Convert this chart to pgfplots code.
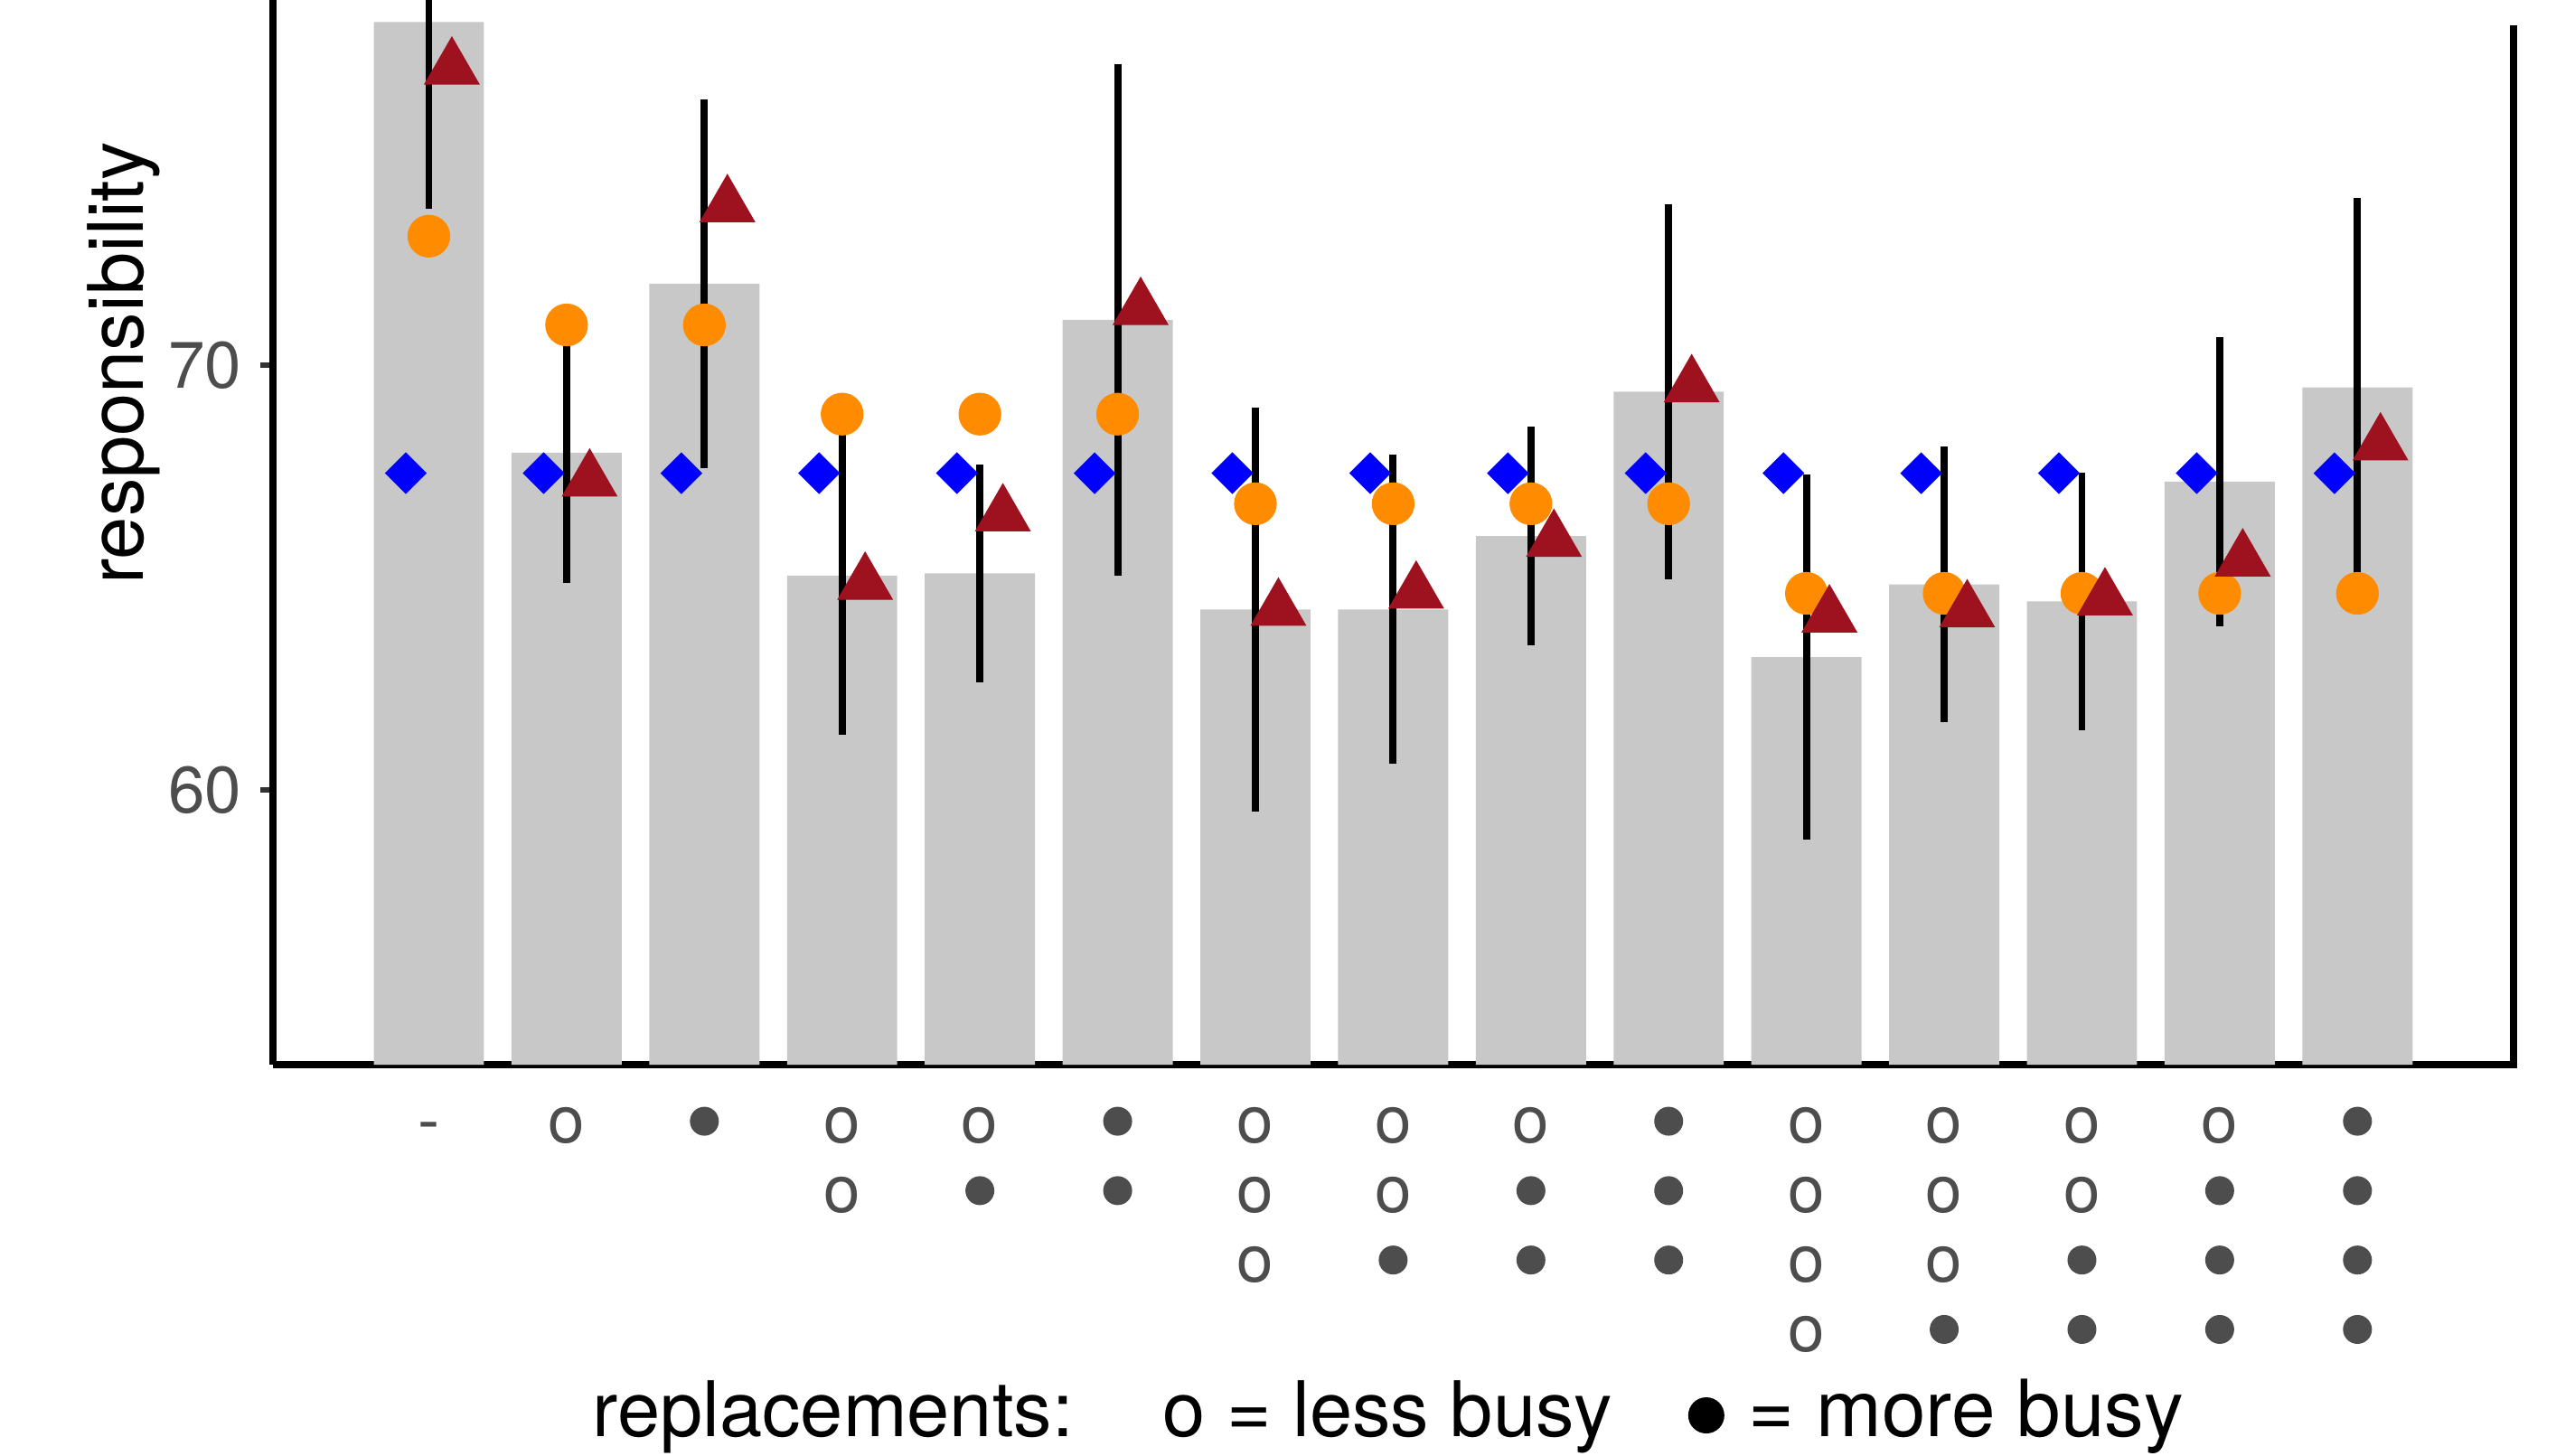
\documentclass[border=0pt]{standalone}
\usepackage{fontspec}
\setmainfont{TeX Gyre Heros}
\usepackage{pgfplots}
\pgfplotsset{compat=1.18}
\usepackage{pgfplotstable}
\definecolor{barg}{RGB}{200,200,200}
\definecolor{dorange}{RGB}{255,140,0}
\definecolor{dred}{RGB}{158,17,31}
\definecolor{dblue}{RGB}{0,0,255}
\definecolor{g30}{RGB}{77,77,77}
\definecolor{g20}{RGB}{51,51,51}

\pgfplotstableread{
x bar err circ tri
1 78.08 4.40 73.04 76.99
2 67.94 3.07 70.95 67.29
3 71.92 4.35 70.95 73.75
4 65.05 3.75 68.85 64.86
5 65.10 2.57 68.85 66.47
6 71.07 6.03 68.85 71.33
7 64.25 4.75 66.74 64.25
8 64.25 3.64 66.74 64.65
9 65.98 2.58 66.74 65.87
10 69.38 4.41 66.74 69.51
11 63.13 4.30 64.63 64.09
12 64.84 3.24 64.63 64.21
13 64.44 3.03 64.63 64.49
14 67.26 3.40 64.63 65.41
15 69.48 4.46 64.63 68.14
}\data

\pgfplotstableread{
x dia
1 67.46
2 67.46
3 67.46
4 67.46
5 67.46
6 67.46
7 67.46
8 67.46
9 67.46
10 67.46
11 67.46
12 67.46
13 67.46
14 67.46
15 67.46
}\diadata

\newcommand{\Op}{\rule{0pt}{8pt}o}
\newcommand{\Fp}{\rule{0pt}{8pt}\tikz[baseline={(0pt,-4pt)}]\fill[g30] (0,0) circle (2.64pt);}
\newcommand{\Dp}{\rule{0pt}{8pt}-}

\begin{document}
\begin{tikzpicture}
\begin{axis}[
  name=ax,
  at={(0pt,0pt)}, anchor=south west,
  scale only axis,
  width=409pt, height=194.4pt,
  xmin=-0.133, xmax=16.13,
  ymin=53.53, ymax=78.6,
  axis x line*=bottom,
  axis y line*=left,
  axis line style={line width=1.3pt, black},
  tick align=outside,
  major tick length=2.2pt,
  ytick={60,70},
  ytick style={g20, line width=1pt},
  xtick={1,...,15},
  xtick style={draw=none},
  /pgf/number format/assume math mode=true,
  yticklabel style={font=\fontsize{12}{14}\selectfont, text=g30},
  xticklabel style={font=\fontsize{12}{12.67}\selectfont, text=g30, align=center, anchor=north, inner sep=0pt, yshift=-3.9pt},
  xticklabels={
    {\Dp},
    {\Op},
    {\Fp},
    {\Op\\\Op},
    {\Op\\\Fp},
    {\Fp\\\Fp},
    {\Op\\\Op\\\Op},
    {\Op\\\Op\\\Fp},
    {\Op\\\Fp\\\Fp},
    {\Fp\\\Fp\\\Fp},
    {\Op\\\Op\\\Op\\\Op},
    {\Op\\\Op\\\Op\\\Fp},
    {\Op\\\Op\\\Fp\\\Fp},
    {\Op\\\Fp\\\Fp\\\Fp},
    {\Fp\\\Fp\\\Fp\\\Fp}
  },
]
\addplot[ybar, bar width=0.8, bar shift=0pt, fill=barg, draw=none] table[x=x, y=bar] {\data};
\addplot[draw=none, mark=none, forget plot,
  error bars/.cd, y dir=both, y explicit, error mark=none,
  error bar style={draw=black, solid, line width=1.3pt}]
  table[x=x, y=bar, y error=err] {\data};
\addplot[only marks, color=dblue, mark=square*, mark size=2.6pt,
  mark options={rotate=45, solid, line width=0.2pt}]
  table[x expr=\thisrow{x}-0.167, y=dia] {\diadata};
\addplot[only marks, color=dorange, mark=*, mark size=3.8pt,
  mark options={solid, line width=0.2pt}]
  table[x=x, y=circ] {\data};
\addplot[only marks, color=dred, mark=triangle*, mark size=5.7pt,
  mark options={solid, line width=0.2pt}]
  table[x expr=\thisrow{x}+0.167, y=tri] {\data};
\end{axis}
\draw[line width=1.3pt, black] (409pt,-0.65pt) -- (409pt,189.7pt);
\node[rotate=90, font=\fontsize{14}{16.8}\selectfont] at (-27.3pt,128.1pt) {responsibility};
\node[anchor=base west, inner sep=0pt, font=\fontsize{14}{16.8}\selectfont] at (58.2pt,-67.8pt) {replacements:};
\node[anchor=base west, inner sep=0pt, font=\fontsize{14}{16.8}\selectfont] at (162.3pt,-67.8pt) {o = less busy};
\node[anchor=base west, inner sep=0pt] at (258.2pt,-67.8pt) {\tikz[baseline={(0pt,-3.8pt)}]\fill[black] (0,0) circle (3.3pt);};
\node[anchor=base west, inner sep=0pt, font=\fontsize{14.4}{17}\selectfont] at (269.2pt,-67.8pt) {= more busy};
\pgfresetboundingbox
\path (-49.8pt,-71.3pt) rectangle (420.3pt,194.4pt);
\end{tikzpicture}
\end{document}
